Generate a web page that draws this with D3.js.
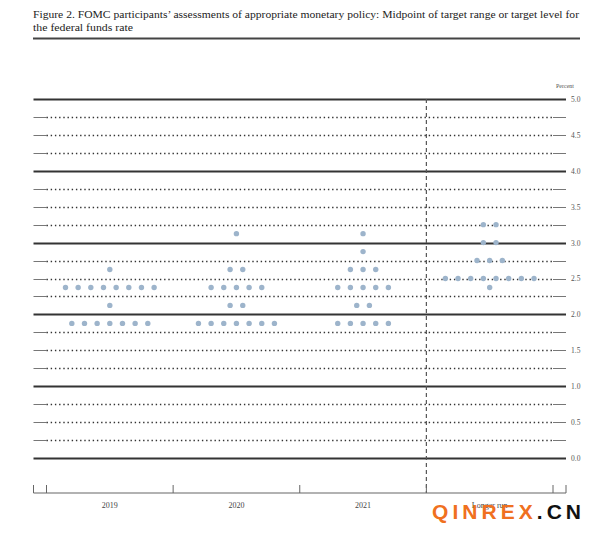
<!DOCTYPE html>
<html>
<head>
<meta charset="utf-8">
<script src="https://cdn.jsdelivr.net/npm/d3@7"></script>
<style>
  html, body { margin: 0; padding: 0; background: #fff; }
  svg { display: block; }
</style>
</head>
<body>
<svg id="chart" width="600" height="533"></svg>
<script>
// ---- Data ----
const titleLines = [
  "Figure 2. FOMC participants\u2019 assessments of appropriate monetary policy: Midpoint of target range or target level for",
  "the federal funds rate"
];
const columns = ["2019", "2020", "2021", "Longer run"];
const yTicks = [0, 0.5, 1.0, 1.5, 2.0, 2.5, 3.0, 3.5, 4.0, 4.5, 5.0];
// [midpoint value, number of participants]
const dots2019 = [[2.625, 1], [2.375, 8], [2.125, 1], [1.875, 7]];
const dots2020 = [[3.125, 1], [2.625, 2], [2.375, 5], [2.125, 2], [1.875, 7]];
const dots2021 = [[3.125, 1], [2.875, 1], [2.625, 3], [2.375, 5], [2.125, 2], [1.875, 5]];
const dotsLongerRun = [[3.25, 2], [3.0, 2], [2.75, 3], [2.5, 8], [2.375, 1]];
const dotSets = [dots2019, dots2020, dots2021, dotsLongerRun];

// ---- Layout ----
const svg = d3.select("#chart");
const left = 33.5, right = 566, inL = 46.5, inR = 553;
const y = d3.scaleLinear().domain([0, 5]).range([458, 99]);
const x = d3.scaleBand().domain(columns).range([inL, inR]).padding(0);
const dotStep = x.bandwidth() / 10;
const ink = "#333";
const serif = "'Liberation Serif', 'DejaVu Serif', serif";

// Title
svg.append("text").attr("x", 33).attr("y", 18)
  .attr("font-family", serif).attr("font-size", 10.5).attr("fill", "#222")
  .attr("textLength", 546).attr("lengthAdjust", "spacingAndGlyphs")
  .text(titleLines[0]);
svg.append("text").attr("x", 33).attr("y", 31)
  .attr("font-family", serif).attr("font-size", 10.5).attr("fill", "#222")
  .attr("textLength", 100).attr("lengthAdjust", "spacingAndGlyphs")
  .text(titleLines[1]);
svg.append("line").attr("x1", 33).attr("x2", 580).attr("y1", 38.5).attr("y2", 38.5)
  .attr("stroke", "#444").attr("stroke-width", 2);

// Horizontal grid lines every 0.25
const gridVals = d3.range(0, 21).map(i => i * 0.25);
const g = svg.append("g");
gridVals.forEach(v => {
  const yy = Math.round(y(v)) + 0.5;
  if (Number.isInteger(v)) {
    g.append("line").attr("x1", left).attr("x2", right).attr("y1", yy).attr("y2", yy)
      .attr("stroke", ink).attr("stroke-width", 1.8);
  } else {
    g.append("line").attr("x1", left).attr("x2", inL).attr("y1", yy).attr("y2", yy)
      .attr("stroke", "#777").attr("stroke-width", 1);
    g.append("line").attr("x1", inR).attr("x2", right).attr("y1", yy).attr("y2", yy)
      .attr("stroke", "#777").attr("stroke-width", 1);
    g.append("line").attr("x1", inL).attr("x2", inR).attr("y1", yy).attr("y2", yy)
      .attr("stroke", ink).attr("stroke-width", 1.4).attr("stroke-dasharray", "1.4,2.8");
  }
});

// Right axis labels
const yAxis = d3.axisRight(y).tickValues(yTicks).tickSize(0).tickFormat(d3.format(".1f"));
const ya = svg.append("g").attr("transform", `translate(${right + 2},0)`).call(yAxis);
ya.select(".domain").remove();
ya.selectAll("text").attr("font-family", serif).attr("font-size", 7.5).attr("fill", "#555");
svg.append("text").attr("x", 556).attr("y", 88).attr("font-family", serif)
  .attr("font-size", 6).attr("fill", "#555").text("Percent");

// Dashed separator before longer run
const sepX = x("Longer run");
svg.append("line").attr("x1", sepX).attr("x2", sepX).attr("y1", y(5)).attr("y2", 493)
  .attr("stroke", "#555").attr("stroke-width", 1.2).attr("stroke-dasharray", "4,3");

// Dots
dotSets.forEach((set, ci) => {
  const cx = x(columns[ci]) + x.bandwidth() / 2;
  set.forEach(([v, n]) => {
    for (let k = 0; k < n; k++) {
      svg.append("circle")
        .attr("cx", cx + (k - (n - 1) / 2) * dotStep)
        .attr("cy", y(v))
        .attr("r", 2.7)
        .attr("fill", "#9db4cb");
    }
  });
});

// Bottom axis
const baseY = 493;
svg.append("line").attr("x1", left).attr("x2", right).attr("y1", baseY).attr("y2", baseY)
  .attr("stroke", "#666").attr("stroke-width", 1.2);
const tickXs = [left, ...columns.map(c => x(c)), inR, right];
tickXs.forEach(tx => {
  svg.append("line").attr("x1", tx).attr("x2", tx).attr("y1", baseY - 8).attr("y2", baseY)
    .attr("stroke", "#666").attr("stroke-width", 1);
});
columns.forEach(c => {
  svg.append("text").attr("x", x(c) + x.bandwidth() / 2).attr("y", 508)
    .attr("text-anchor", "middle").attr("font-family", serif).attr("font-size", 8)
    .attr("fill", "#444").text(c);
});

// Watermark
const wm = svg.append("text").attr("x", 432).attr("y", 519)
  .attr("font-family", "'Liberation Sans', Arial, sans-serif").attr("font-weight", "bold")
  .attr("font-size", 21).attr("textLength", 149).attr("lengthAdjust", "spacing");
wm.append("tspan").attr("fill", "#f07020").text("QINREX");
wm.append("tspan").attr("fill", "#111").text(".CN");
</script>
</body>
</html>
